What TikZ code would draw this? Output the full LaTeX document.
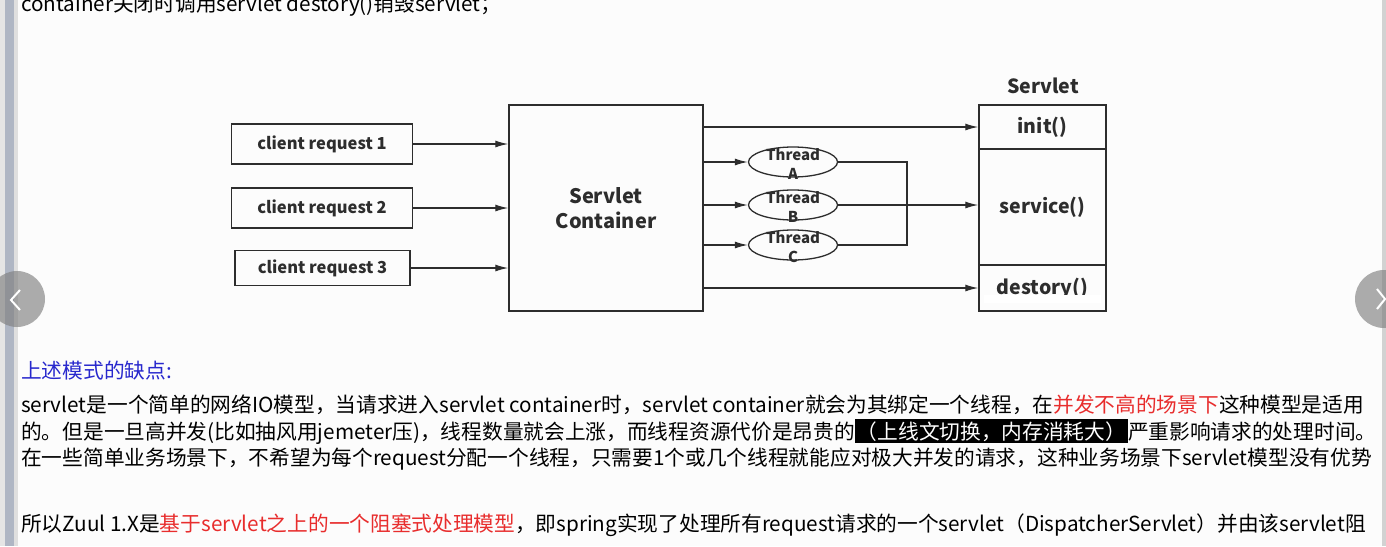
\documentclass[tikz,border=0pt]{standalone}
\usepackage{fontspec}
\setmainfont{Noto Sans CJK SC}
\usetikzlibrary{shapes.geometric,arrows.meta}
\definecolor{linegray}{RGB}{45,45,45}
\definecolor{headblue}{RGB}{40,40,205}
\definecolor{hired}{RGB}{232,45,45}
\definecolor{barblue}{RGB}{175,182,196}
\newcommand{\bodyfont}{\fontsize{20.7}{24}\selectfont}
\begin{document}
\begin{tikzpicture}[x=1pt,y=-1pt,
    box/.style={draw=linegray, line width=1.4pt, rectangle, inner sep=0pt},
    arr/.style={draw=linegray, line width=1.3pt, -{Latex[length=13pt,width=7pt]}},
    wire/.style={draw=linegray, line width=1.3pt},
    thread/.style={draw=linegray, line width=1.3pt, ellipse, minimum width=89pt, minimum height=30pt, inner sep=0pt},
    threadtxt/.style={align=center, inner sep=0pt, text=linegray, font=\fontsize{15}{19}\selectfont\bfseries},
    reqfont/.style={font=\fontsize{16.5}{18}\selectfont\bfseries, text=linegray},
    txt/.style={anchor=base west, inner sep=0pt, font=\bodyfont}]

  \useasboundingbox (0,0) rectangle (1386,546);
  \clip (0,0) rectangle (1386,546);
  \fill[white!99!black] (0,0) rectangle (1386,546);

%Window frame
  \fill[gray!20] (0,0) rectangle (5,546);
  \fill[barblue] (5,0) rectangle (14,546);
  \fill[gray!25] (14,0) rectangle (18,546);
  \fill[gray!35] (1382,0) rectangle (1386,546);

  \node[txt] at (21, 11) (top) {container关闭时调用servlet destory()销毁servlet；};

%Clients
  \node[box, reqfont, minimum width=181pt, minimum height=40pt] at (322, 144) (req1) {client request 1};
  \node[box, reqfont, minimum width=181pt, minimum height=40pt] at (322, 208) (req2) {client request 2};
  \node[box, reqfont, minimum width=175pt, minimum height=35pt] at (322.5, 268) (req3) {client request 3};

  \node[box, minimum width=194pt, minimum height=206pt, align=center, text=linegray, font=\fontsize{20}{25}\selectfont\bfseries] at (606, 208) (ctr) {Servlet\\Container};

%Servlet
  \node[text=linegray, font=\fontsize{19.5}{20}\selectfont\bfseries] at (1043, 86) (srv) {Servlet};
  \node[box, minimum width=127pt, minimum height=44pt, text=linegray, font=\fontsize{19.5}{20}\selectfont\bfseries] at (1042.5, 127) (init) {init()};
  \node[box, minimum width=127pt, minimum height=116pt, text=linegray, font=\fontsize{19.5}{20}\selectfont\bfseries] at (1042.5, 207) (service) {service()};
  \node[box, minimum width=127pt, minimum height=46pt, text=linegray, font=\fontsize{19.5}{20}\selectfont\bfseries] at (1042.5, 288) (destory) {destory()};
  \fill[white] (984, 295) rectangle (1101, 303);

%Threads
  \node[thread] at (793, 162) (thA) {};
  \node[thread] at (793, 205) (thB) {};
  \node[thread] at (793, 245) (thC) {};
  \node[threadtxt] at (793, 164) (thAtxt) {Thread\\A};
  \node[threadtxt] at (793, 207) (thBtxt) {Thread\\B};
  \node[threadtxt] at (793, 247) (thCtxt) {Thread\\C};
  \coordinate (join) at (907, 205);

  \draw[arr] (req1.east) -- (req1 -| ctr.west);
  \draw[arr] (req2.east) -- (req2 -| ctr.west);
  \draw[arr] (req3.east) -- (req3 -| ctr.west);

  \draw[arr] (init -| ctr.east) -- (init.west);
  \draw[arr] (thA -| ctr.east) -- (thA.west);
  \draw[arr] (thB -| ctr.east) -- (thB.west);
  \draw[arr] (thC -| ctr.east) -- (thC.west);
  \draw[wire] (thA.east) -- (thA -| join) -- (thC -| join) -- (thC.east);
  \draw[arr] (thB.east) -- (thB -| service.west);
  \draw[arr] (destory -| ctr.east) -- (destory.west);

%Text below
  \node[txt, text=headblue] at (21, 378) (head) {上述模式的缺点:};
  \node[txt] at (21, 412) (l1) {servlet是一个简单的网络IO模型，当请求进入servlet container时，servlet container就会为其绑定一个线程，在\textcolor{hired}{并发不高的场景下}这种模型是适用};
  \node[txt] at (21, 439) (l2) {的。但是一旦高并发(比如抽风用jemeter压)，线程数量就会上涨，而线程资源代价是昂贵的{\setlength{\fboxsep}{2pt}\colorbox{black}{\textcolor{white}{（上线文切换，内存消耗大）}}}严重影响请求的处理时间。};
  \node[txt] at (21, 465) (l3) {在一些简单业务场景下，不希望为每个request分配一个线程，只需要1个或几个线程就能应对极大并发的请求，这种业务场景下servlet模型没有优势};
  \node[txt] at (21, 531) (l4) {所以Zuul 1.X是\textcolor{hired}{基于servlet之上的一个阻塞式处理模型}，即spring实现了处理所有request请求的一个servlet（DispatcherServlet）并由该servlet阻};

%Slide buttons
  \fill[gray, opacity=0.65] (17, 299) circle (28);
  \draw[white, line width=2pt] (20, 290) -- (11, 300) -- (20, 310);
  \fill[gray, opacity=0.65] (1384, 299) circle (29);
  \draw[white, line width=2pt] (1377, 289) -- (1385, 299) -- (1377, 309);

\end{tikzpicture}
\end{document}
